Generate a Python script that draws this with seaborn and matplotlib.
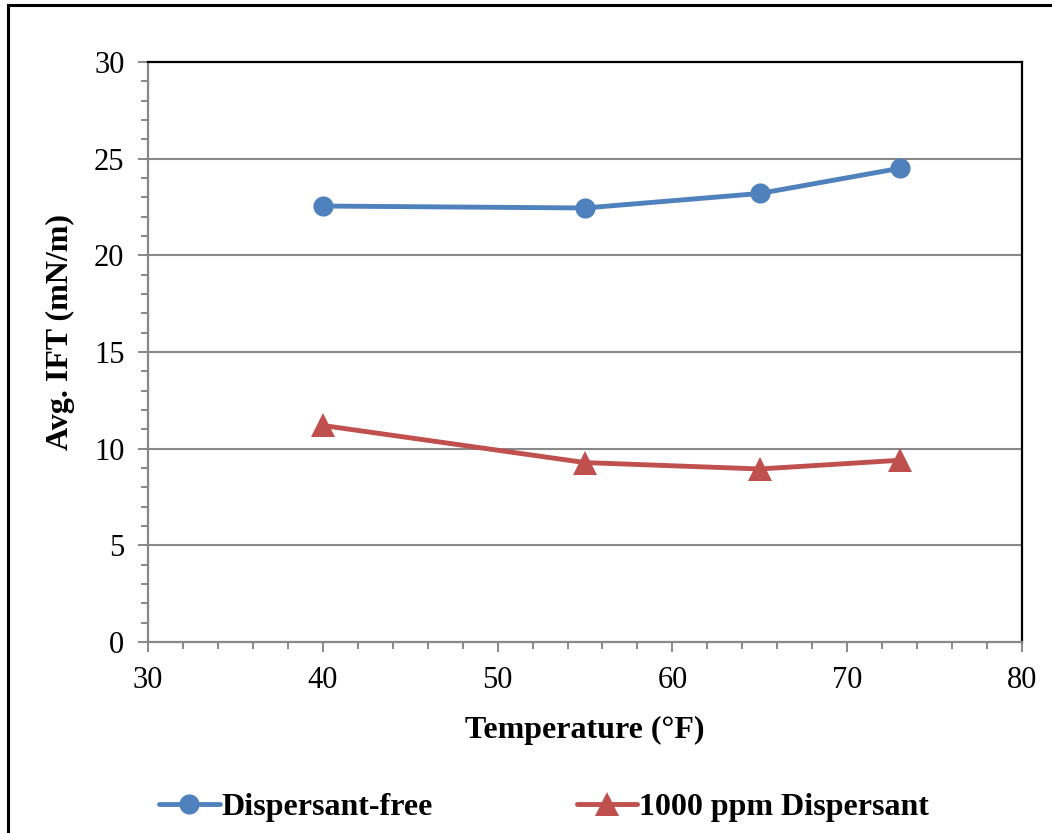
import numpy as np
import pandas as pd
import matplotlib
matplotlib.use('Agg')
import matplotlib.pyplot as plt
import seaborn as sns
from matplotlib.patches import Rectangle
from matplotlib.ticker import MultipleLocator

# values
temps = [40, 55, 65, 73]
ift_free = [22.55, 22.45, 23.2, 24.5]
ift_disp = [11.2, 9.28, 8.95, 9.4]
series_names = ['Dispersant-free', '1000 ppm Dispersant']

df = pd.DataFrame({
    'Temperature': temps + temps,
    'IFT': ift_free + ift_disp,
    'series': [series_names[0]] * len(temps) + [series_names[1]] * len(temps),
})

sns.set_style('white')
plt.rcParams['font.family'] = ['Liberation Serif', 'DejaVu Serif']
plt.rcParams['text.color'] = 'black'
plt.rcParams['axes.labelcolor'] = 'black'
plt.rcParams['xtick.labelcolor'] = 'black'
plt.rcParams['ytick.labelcolor'] = 'black'

fig = plt.figure(figsize=(10.52, 8.33), dpi=100)
ax = fig.add_axes([148 / 1052, 1 - 642 / 833, 874 / 1052, 580 / 833])

colors = {series_names[0]: '#4F81BD', series_names[1]: '#C0504D'}
sns.lineplot(data=df, x='Temperature', y='IFT', hue='series', style='series',
             palette=colors, markers={series_names[0]: 'o', series_names[1]: '^'},
             dashes=False, linewidth=3.5, markersize=14.5, markeredgewidth=0,
             ax=ax, legend=True)

ax.set_xlim(30, 80)
ax.set_ylim(0, 30)
ax.xaxis.set_major_locator(MultipleLocator(10))
ax.xaxis.set_minor_locator(MultipleLocator(2))
ax.yaxis.set_major_locator(MultipleLocator(5))
ax.yaxis.set_minor_locator(MultipleLocator(1))

grey = '#888888'
for y in [5, 10, 15, 20, 25]:
    ax.axhline(y, color=grey, lw=1.5, zorder=0)

for s in ['left', 'bottom']:
    ax.spines[s].set_color(grey)
    ax.spines[s].set_linewidth(1.6)
for s in ['top', 'right']:
    ax.spines[s].set_color('black')
    ax.spines[s].set_linewidth(1.6)

ax.tick_params(which='both', direction='out', color=grey, width=1.4,
               left=True, bottom=True, labelsize=22, pad=10)
ax.tick_params(which='major', length=7)
ax.tick_params(which='minor', length=5)

ax.set_xlabel('Temperature (°F)', fontsize=23, fontweight='bold')
ax.set_ylabel('Avg. IFT (mN/m)', fontsize=23, fontweight='bold')
ax.xaxis.set_label_coords(0.5, -(730 - 642) / 580)
ax.yaxis.set_label_coords(-(148 - 60) / 874, (642 - 332) / 580)
ax.xaxis.label.set_va('center')
ax.yaxis.label.set_va('center')

handles, labels = ax.get_legend_handles_labels()
ax.legend_.remove()

# triangles look a bit bigger than circles in the original
for line in list(ax.lines) + list(handles):
    if line.get_marker() == '^':
        line.set_markersize(17)

fig.legend(handles, labels, loc='center', bbox_to_anchor=(0.517, 1 - 807 / 833),
           ncol=2, frameon=False, prop={'weight': 'bold', 'size': 23},
           handlelength=1.9, handletextpad=0.05, columnspacing=4.5)

# outer chart border (cut off at right and bottom in the reference)
fig.patches.append(Rectangle((8 / 1052, -0.05), 1.1, 1 - 5 / 833 + 0.05,
                             transform=fig.transFigure, fill=False,
                             edgecolor='black', linewidth=2.2))

fig.savefig('out.png', dpi=100)
